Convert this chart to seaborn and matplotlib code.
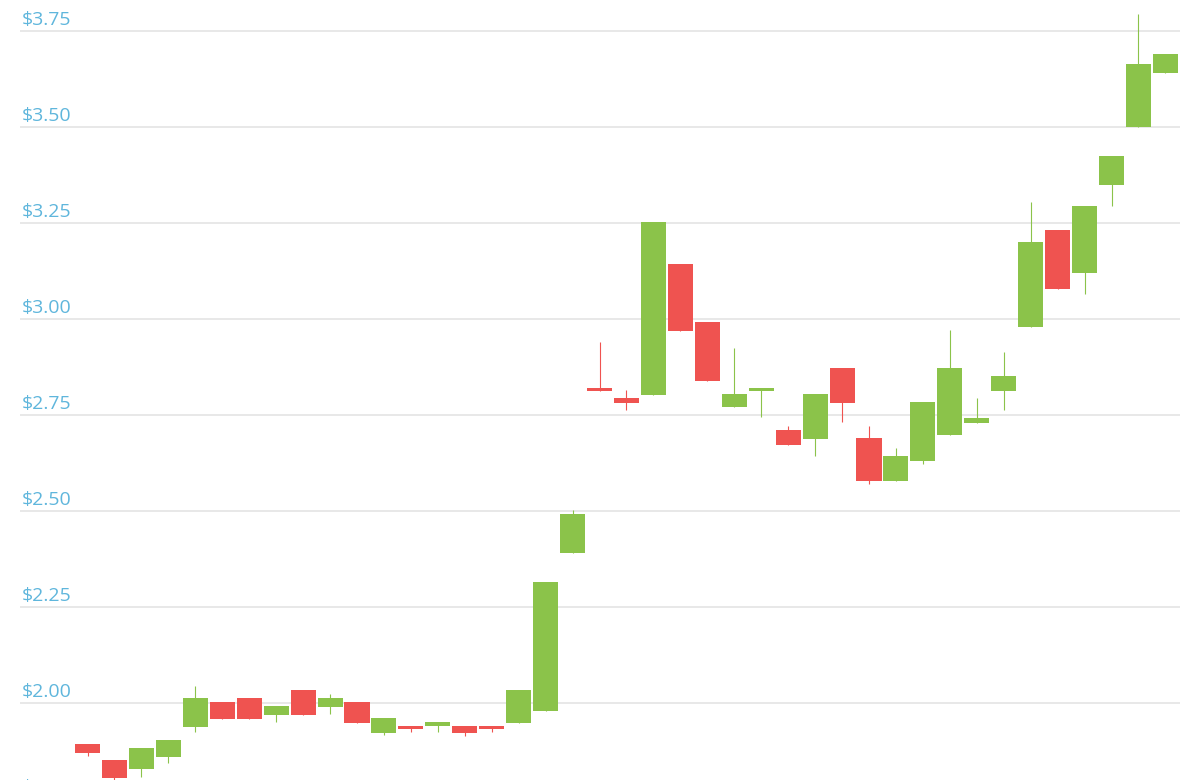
import numpy as np
import seaborn as sns
import matplotlib.pyplot as plt

# daily OHLC values
opens = [1.893, 1.852, 1.829, 1.860, 1.938, 2.003, 2.013, 1.970, 2.034, 1.990,
         2.003, 1.923, 1.940, 1.939, 1.940, 1.940, 1.949, 1.980, 2.391, 2.820,
         2.794, 2.803, 3.143, 2.992, 2.772, 2.813, 2.711, 2.688, 2.872, 2.690,
         2.579, 2.631, 2.699, 2.730, 2.813, 2.980, 3.232, 3.121, 3.350, 3.501,
         3.641]
closes = [1.871, 1.805, 1.883, 1.904, 2.013, 1.959, 1.959, 1.992, 1.970, 2.013,
          1.949, 1.961, 1.933, 1.951, 1.923, 1.933, 2.034, 2.315, 2.492, 2.813,
          2.782, 3.253, 2.970, 2.839, 2.805, 2.820, 2.673, 2.805, 2.782, 2.579,
          2.643, 2.784, 2.872, 2.742, 2.852, 3.201, 3.079, 3.294, 3.424, 3.664,
          3.690]
highs = [1.893, 1.852, 1.883, 1.904, 2.044, 2.003, 2.013, 1.992, 2.034, 2.023,
         2.003, 1.961, 1.940, 1.951, 1.940, 1.940, 2.034, 2.315, 2.503, 2.940,
         2.815, 3.253, 3.143, 2.992, 2.924, 2.820, 2.721, 2.805, 2.872, 2.721,
         2.664, 2.784, 2.971, 2.794, 2.914, 3.305, 3.232, 3.294, 3.424, 3.794,
         3.690]
lows = [1.863, 1.795, 1.807, 1.843, 1.925, 1.959, 1.959, 1.951, 1.970, 1.971,
        1.949, 1.916, 1.925, 1.925, 1.915, 1.925, 1.949, 1.980, 2.391, 2.813,
        2.763, 2.803, 2.970, 2.839, 2.772, 2.744, 2.673, 2.643, 2.733, 2.570,
        2.579, 2.622, 2.699, 2.730, 2.763, 2.980, 3.079, 3.065, 3.294, 3.501,
        3.641]
price_ticks = [1.75, 2.00, 2.25, 2.50, 2.75, 3.00, 3.25, 3.50, 3.75]

sns.set_theme(style='white')
plt.rcParams['font.family'] = ['Open Sans', 'DejaVu Sans']

green = '#8bc34a'
red = '#ef5350'

o = np.array(opens)
c = np.array(closes)
x = np.arange(len(o))
colors = [green if cc >= oo else red for oo, cc in zip(o, c)]

fig = plt.figure(figsize=(12, 7.8), dpi=100)
ax = fig.add_axes([20 / 1200, 0, 1160 / 1200, 1])

# gridlines with the price labels sitting just above them
for t in price_ticks:
    ax.axhline(t, color='#e2e2e2', lw=1.1, zorder=0)
    ax.annotate('$%.2f' % t, xy=(0, t), xycoords=('axes fraction', 'data'),
                xytext=(1, 1.5), textcoords='offset points',
                ha='left', va='bottom', fontsize=14, color='#5fb6dc',
                annotation_clip=False)

# wicks and bodies
ax.vlines(x, lows, highs, colors=colors, lw=0.8, zorder=2)
body = np.maximum(np.abs(c - o), 0.004)
ax.bar(x, body, bottom=np.minimum(o, c), width=0.93, color=colors,
       linewidth=0, zorder=3)

ax.set_xlim(-2.505, 40.54)
ax.set_ylim(1.7995, 3.8307)
ax.set_xticks([])
ax.set_yticks([])
for s in ax.spines.values():
    s.set_visible(False)

fig.savefig('out.png', dpi=100)
